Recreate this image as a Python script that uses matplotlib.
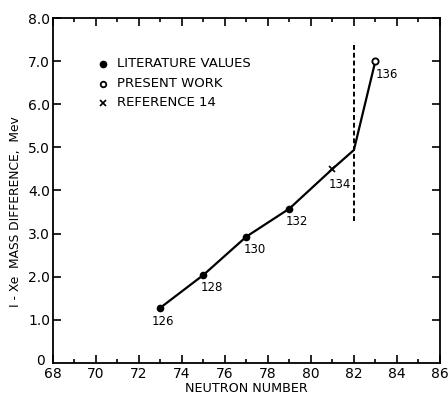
import matplotlib
matplotlib.use("Agg")
import matplotlib.pyplot as plt
from matplotlib.ticker import MultipleLocator

# data
neutrons = [73, 75, 77, 79, 81, 82, 83]
mass_diff = [1.28, 2.04, 2.93, 3.58, 4.50, 4.94, 7.01]
lit_x = [73, 75, 77, 79]
lit_y = [1.28, 2.04, 2.93, 3.58]
present_x = [83]
present_y = [7.01]
ref_x = [81]
ref_y = [4.50]
mass_numbers = ["126", "128", "130", "132", "134", "136"]
label_x = [73.1, 75.4, 77.4, 79.35, 81.35, 83.55]
label_y = [0.95, 1.74, 2.62, 3.27, 4.15, 6.70]
shell_x = 82
shell_y = [3.3, 7.45]
legend_labels = ["LITERATURE VALUES", "PRESENT WORK", "REFERENCE 14"]
ytick_vals = [1, 2, 3, 4, 5, 6, 7, 8]
ytick_labels = ["1.0", "2.0", "3.0", "4.0", "5.0", "6.0", "7.0", "8.0"]

fig = plt.figure(figsize=(4.48, 3.94), dpi=100)
ax = fig.add_axes([0.118, 0.079, 0.864, 0.875])

ax.plot(neutrons, mass_diff, color="black", lw=1.6, zorder=2)
ax.plot(lit_x, lit_y, "o", color="black", ms=4.5, zorder=3)
ax.plot(present_x, present_y, "o", mfc="white", mec="black", mew=1.3, ms=4.5, zorder=3)
ax.plot(ref_x, ref_y, "x", color="black", ms=4.5, mew=1.2, zorder=3)
ax.plot([shell_x, shell_x], shell_y, color="black", lw=1.4, ls=(0, (2.5, 1.5)), zorder=2)

for t, x, y in zip(mass_numbers, label_x, label_y):
    ax.text(x, y, t, ha="center", va="center", fontsize=8.5)

# legend, hand-placed in axes fraction
leg_y = [0.867, 0.810, 0.755]
ax.plot([0.13], [leg_y[0]], "o", color="black", ms=4.5, transform=ax.transAxes)
ax.plot([0.13], [leg_y[1]], "o", mfc="white", mec="black", mew=1.3, ms=4, transform=ax.transAxes)
ax.plot([0.13], [leg_y[2]], "x", color="black", ms=4, mew=1.2, transform=ax.transAxes)
for t, y in zip(legend_labels, leg_y):
    ax.text(0.165, y, t, transform=ax.transAxes, ha="left", va="center", fontsize=9.5)

ax.set_xlim(68, 86)
ax.set_ylim(0, 8)
ax.xaxis.set_major_locator(MultipleLocator(2))
ax.xaxis.set_minor_locator(MultipleLocator(1))
ax.set_yticks(ytick_vals)
ax.set_yticklabels(ytick_labels)
ax.tick_params(which="both", direction="in", top=True, right=True, labelsize=10, width=1.2)
ax.tick_params(which="major", length=6)
ax.tick_params(which="minor", length=3)
ax.tick_params(axis="y", which="minor", left=False, right=False)
ax.tick_params(axis="y", pad=2)
ax.tick_params(axis="x", pad=3)
for s in ax.spines.values():
    s.set_linewidth(1.3)

# origin label "0" set just left of the corner
ax.annotate("0", xy=(0, 0), xycoords="axes fraction", xytext=(-6, 1),
            textcoords="offset points", ha="right", va="center", fontsize=10)

ax.set_xlabel("NEUTRON NUMBER", fontsize=9.2, labelpad=1)
ax.set_ylabel("I - Xe  MASS DIFFERENCE,  Mev", fontsize=8.8)
ax.yaxis.set_label_coords(-0.08, 0.44)

fig.savefig("out.png", dpi=100)
